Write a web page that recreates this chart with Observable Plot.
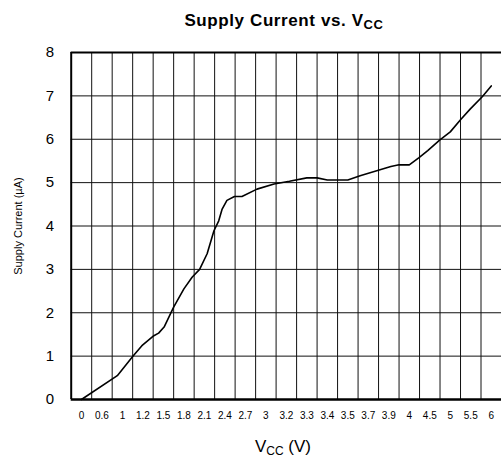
<!DOCTYPE html>
<html>
<head>
<meta charset="utf-8">
<script src="https://cdn.jsdelivr.net/npm/d3@7"></script>
<script src="https://cdn.jsdelivr.net/npm/@observablehq/plot@0.6"></script>
<style>
  html, body { margin: 0; padding: 0; background: #fff; }
  #chart { position: relative; width: 501px; height: 464px; }
  svg { font-family: "Liberation Sans", Arial, sans-serif; }
</style>
</head>
<body>
<div id="chart"></div>
<script>
// Category axis (Vcc, volts) and its tick labels
const vccTicks = [0, 0.6, 1, 1.2, 1.5, 1.8, 2.1, 2.4, 2.7, 3, 3.2, 3.3, 3.4, 3.5, 3.7, 3.9, 4, 4.5, 5, 5.5, 6];
const tickLabels = ["0", "0.6", "1", "1.2", "1.5", "1.8", "2.1", "2.4", "2.7", "3", "3.2", "3.3", "3.4", "3.5", "3.7", "3.9", "4", "4.5", "5", "5.5", "6"];
const yTicks = [0, 1, 2, 3, 4, 5, 6, 7, 8];

// Supply current curve (Vcc in volts, current in µA)
const curveVcc = [0, 0.90, 1.10, 1.19, 1.36, 1.43, 1.51, 1.65, 1.80, 1.92, 2.03, 2.14, 2.24, 2.31, 2.36, 2.43, 2.54, 2.65, 2.87, 3.08, 3.215, 3.30, 3.35, 3.40, 3.50, 3.62, 3.91, 3.95, 4.00, 4.23, 4.45, 4.74, 5.00, 5.25, 5.49, 5.78, 6.00];
const curveCurrent = [0, 0.55, 0.99, 1.24, 1.47, 1.53, 1.67, 2.13, 2.55, 2.82, 3.00, 3.36, 3.89, 4.12, 4.39, 4.59, 4.68, 4.68, 4.85, 4.97, 5.03, 5.11, 5.11, 5.06, 5.06, 5.16, 5.37, 5.41, 5.41, 5.57, 5.74, 5.98, 6.17, 6.45, 6.70, 6.98, 7.23];

const n = vccTicks.length;
// the axis is categorical (evenly spaced labels); map volts to category position
const toPos = d3.scaleLinear().domain(vccTicks).range(d3.range(n));
const curve = curveVcc.map((v, i) => ({pos: toPos(v), current: curveCurrent[i]}));
const bounds = d3.range(1, n).map(i => i - 0.5);

const plot = Plot.plot({
  width: 501,
  height: 464,
  marginTop: 52,
  marginBottom: 65,
  marginLeft: 70.7,
  marginRight: 0,
  style: {fontFamily: "'Liberation Sans', Arial, sans-serif", background: "#fff", color: "#000"},
  x: {domain: [-0.5, n - 0.5]},
  y: {domain: [0, 8]},
  marks: [
    Plot.ruleX(bounds, {stroke: "#111", strokeWidth: 1}),
    Plot.ruleY([1, 2, 3, 4, 5, 6, 7], {stroke: "#111", strokeWidth: 1}),
    Plot.ruleY([8], {stroke: "#000", strokeWidth: 1.8}),
    Plot.ruleX([-0.5], {stroke: "#000", strokeWidth: 2}),
    Plot.ruleY([0], {stroke: "#000", strokeWidth: 2.5}),
    Plot.line(curve, {x: "pos", y: "current", stroke: "#000", strokeWidth: 1.6}),
    Plot.axisX({ticks: d3.range(n), tickSize: 0, tickPadding: 12, tickFormat: i => tickLabels[i], fontSize: 10, label: null}),
    Plot.axisY({ticks: yTicks, tickSize: 0, tickPadding: 17, fontSize: 15, label: null}),
    Plot.text(["Supply Current (µA)"], {frameAnchor: "left", dx: -53, rotate: -90, textAnchor: "middle", lineAnchor: "middle", fontSize: 11})
  ]
});
document.getElementById("chart").appendChild(plot);

const svg = d3.select(plot);
const title = svg.append("text")
  .attr("x", 284).attr("y", 26)
  .attr("text-anchor", "middle")
  .attr("font-size", 17).attr("font-weight", "bold").attr("fill", "#000")
  .attr("letter-spacing", 0.6);
title.append("tspan").text("Supply Current vs. V");
title.append("tspan").attr("dy", 3).attr("font-size", 13).text("CC");

const xl = svg.append("text")
  .attr("x", 283).attr("y", 452)
  .attr("text-anchor", "middle")
  .attr("font-size", 17).attr("fill", "#000");
xl.append("tspan").text("V");
xl.append("tspan").attr("dy", 3).attr("font-size", 12).text("CC");
xl.append("tspan").attr("dy", -3).text(" (V)");
</script>
</body>
</html>
